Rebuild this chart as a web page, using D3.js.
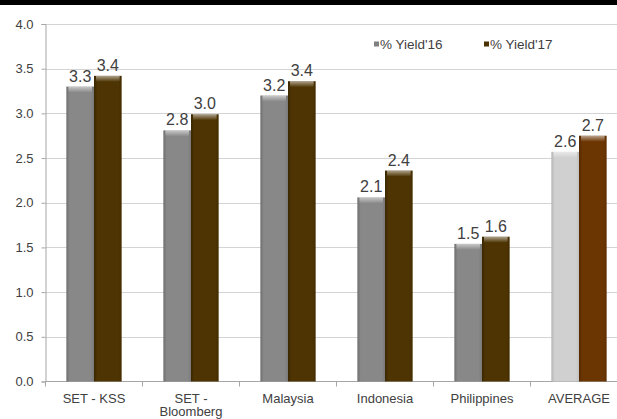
<!DOCTYPE html>
<html>
<head>
<meta charset="utf-8">
<script src="https://cdn.jsdelivr.net/npm/d3@7"></script>
<style>
  body { margin: 0; background: #fff; }
  svg { display: block; font-family: "Liberation Sans", Arial, sans-serif; }
</style>
</head>
<body>
<div id="chart"></div>
<script>
// chart data
var categories = ["SET - KSS", "SET -\nBloomberg", "Malaysia", "Indonesia", "Philippines", "AVERAGE"];
var seriesNames = ["% Yield'16", "% Yield'17"];
var yield16 = [3.30, 2.81, 3.20, 2.06, 1.54, 2.57];
var yield17 = [3.42, 2.99, 3.36, 2.36, 1.62, 2.75];
var labels16 = ["3.3", "2.8", "3.2", "2.1", "1.5", "2.6"];
var labels17 = ["3.4", "3.0", "3.4", "2.4", "1.6", "2.7"];
var yTicks = [0, 0.5, 1, 1.5, 2, 2.5, 3, 3.5, 4];

var width = 617, height = 419;
var margin = { top: 24, left: 45.5, bottom: 37.5 };
var plotRight = 627.5; // plot runs past the right edge, as in the picture

var svg = d3.select("#chart").append("svg")
	.attr("width", width)
	.attr("height", height);

// dark strip at the very top
svg.append("rect")
	.attr("x", 0).attr("y", 0)
	.attr("width", width).attr("height", 5)
	.attr("fill", "#000");

var x = d3.scaleBand()
	.domain(d3.range(categories.length))
	.range([margin.left, plotRight])
	.paddingInner(0.43)
	.paddingOuter(0.215);

var y = d3.scaleLinear()
	.domain([0, 4])
	.range([height - margin.bottom, margin.top]);

var sub = d3.scaleBand()
	.domain([0, 1])
	.range([0, x.bandwidth()]);

// gradients for the bevelled bars
var defs = svg.append("defs");
var fills = {
	g16: ["#6e6e6e", "#888888", "#7a7a7a"],
	b17: ["#3a2600", "#4d3402", "#432c00"],
	gAvg: ["#b4b4b4", "#d0d0d0", "#c2c2c2"],
	bAvg: ["#552800", "#6c3603", "#5f2e00"]
};
Object.keys(fills).forEach(function(k) {
	var c = fills[k];
	var lg = defs.append("linearGradient").attr("id", k).attr("x1", 0).attr("x2", 1).attr("y1", 0).attr("y2", 0);
	lg.append("stop").attr("offset", "0%").attr("stop-color", c[0]);
	lg.append("stop").attr("offset", "12%").attr("stop-color", c[1]);
	lg.append("stop").attr("offset", "88%").attr("stop-color", c[1]);
	lg.append("stop").attr("offset", "100%").attr("stop-color", c[2]);
});
var hl = defs.append("linearGradient").attr("id", "topHl").attr("x1", 0).attr("x2", 0).attr("y1", 0).attr("y2", 1);
hl.append("stop").attr("offset", "0%").attr("stop-color", "#fff").attr("stop-opacity", 0.55);
hl.append("stop").attr("offset", "100%").attr("stop-color", "#fff").attr("stop-opacity", 0);

// gridlines
svg.append("g")
	.selectAll("line")
	.data(yTicks.filter(function(d) { return d > 0; }))
	.enter().append("line")
	.attr("x1", margin.left).attr("x2", plotRight)
	.attr("y1", function(d) { return Math.round(y(d)) + 0.5; })
	.attr("y2", function(d) { return Math.round(y(d)) + 0.5; })
	.attr("stroke", "#d4d4d4");

// y axis
var yAxis = svg.append("g")
	.attr("transform", "translate(" + margin.left + ",0)")
	.call(d3.axisLeft(y).tickValues(yTicks).tickFormat(d3.format(".1f")).tickSize(4).tickPadding(8));
yAxis.select(".domain").attr("stroke", "#a6a6a6");
yAxis.selectAll(".tick line").attr("stroke", "#a6a6a6");
yAxis.selectAll("text").attr("fill", "#404040").style("font-size", "13px");

// x axis
var xAxisG = svg.append("g")
	.attr("transform", "translate(0," + y(0) + ")");
xAxisG.append("line")
	.attr("x1", margin.left).attr("x2", plotRight)
	.attr("stroke", "#a6a6a6");
xAxisG.selectAll("line.tick")
	.data(d3.range(categories.length))
	.enter().append("line")
	.attr("class", "tick")
	.attr("x1", function(d) { return x(d) - x.step() * x.paddingInner() / 2; })
	.attr("x2", function(d) { return x(d) - x.step() * x.paddingInner() / 2; })
	.attr("y1", 0).attr("y2", 5)
	.attr("stroke", "#a6a6a6");

var catText = xAxisG.selectAll("text.cat")
	.data(categories)
	.enter().append("text")
	.attr("class", "cat")
	.attr("text-anchor", "middle")
	.attr("fill", "#404040")
	.style("font-size", "13px")
	.attr("transform", function(d, i) { return "translate(" + (x(i) + x.bandwidth() / 2) + ",0)"; });
catText.selectAll("tspan")
	.data(function(d) { return d.split("\n"); })
	.enter().append("tspan")
	.attr("x", 0)
	.attr("y", function(d, i) { return 21 + i * 13.5; })
	.text(function(d) { return d; });

// bars
var rows = categories.map(function(c, i) {
	var avg = i === categories.length - 1;
	return [
		{ i: i, s: 0, v: yield16[i], label: labels16[i], fill: avg ? "gAvg" : "g16" },
		{ i: i, s: 1, v: yield17[i], label: labels17[i], fill: avg ? "bAvg" : "b17" }
	];
});

var groups = svg.append("g").selectAll("g")
	.data(rows)
	.enter().append("g")
	.attr("transform", function(d, i) { return "translate(" + x(i) + ",0)"; });

var bars = groups.selectAll("g.bar")
	.data(function(d) { return d; })
	.enter().append("g")
	.attr("class", "bar");

bars.append("rect")
	.attr("x", function(d) { return sub(d.s); })
	.attr("y", function(d) { return y(d.v); })
	.attr("width", sub.bandwidth())
	.attr("height", function(d) { return y(0) - y(d.v); })
	.attr("fill", function(d) { return "url(#" + d.fill + ")"; });

bars.append("rect")
	.attr("x", function(d) { return sub(d.s) + 2; })
	.attr("y", function(d) { return y(d.v); })
	.attr("width", sub.bandwidth() - 4)
	.attr("height", 6)
	.attr("fill", "url(#topHl)");

bars.append("text")
	.attr("x", function(d) { return sub(d.s) + sub.bandwidth() / 2; })
	.attr("y", function(d) { return y(d.v) - 5; })
	.attr("text-anchor", "middle")
	.attr("fill", "#404040")
	.style("font-size", "16px")
	.text(function(d) { return d.label; });

// legend
var legend = svg.append("g").selectAll("g")
	.data(seriesNames)
	.enter().append("g")
	.attr("transform", function(d, i) { return "translate(" + (374 + i * 110) + ",44)"; });
legend.append("rect")
	.attr("x", 0).attr("y", -2.5)
	.attr("width", 5).attr("height", 5)
	.attr("fill", function(d, i) { return i === 0 ? "#808080" : "#4a3100"; });
legend.append("text")
	.attr("x", 6).attr("y", 4.5)
	.attr("fill", "#404040")
	.style("font-size", "13.5px")
	.text(function(d) { return d; });
</script>
</body>
</html>
